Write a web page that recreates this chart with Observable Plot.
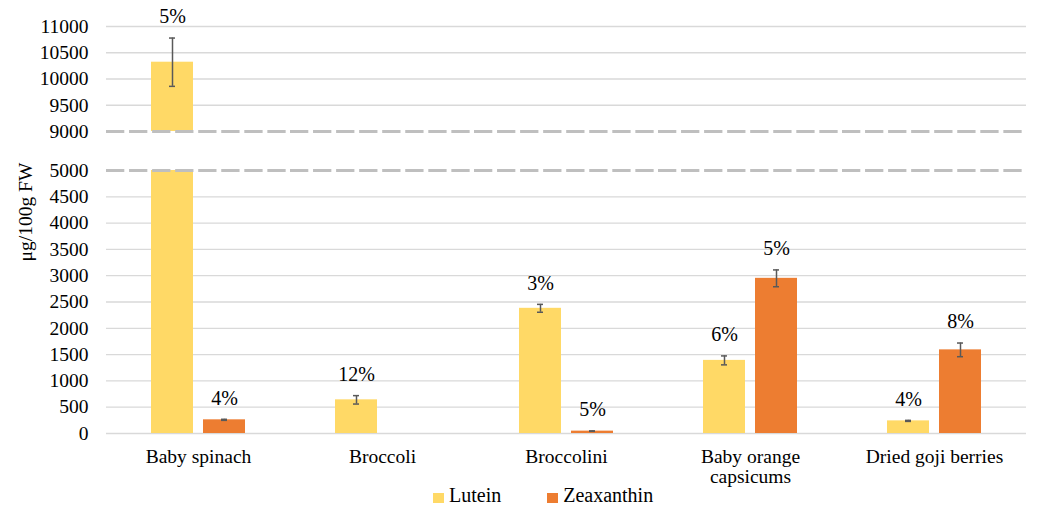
<!DOCTYPE html>
<html><head><meta charset="utf-8">
<script src="https://cdn.jsdelivr.net/npm/d3@7"></script>
<script src="https://cdn.jsdelivr.net/npm/@observablehq/plot@0.6"></script>
<style>
body{margin:0;background:#fff;}
#chart{position:relative;width:1051px;height:512px;font-family:'Liberation Serif',serif;color:#000;}
#top,#bottom{position:absolute;left:0;}
#top{top:0;}
#bottom{top:140px;}
#ylabel{position:absolute;left:26px;top:212px;transform:translate(-50%,-50%) rotate(-90deg);font-size:19.5px;white-space:nowrap;}
#legend{position:absolute;top:484px;left:433px;display:flex;align-items:center;font-size:20px;line-height:23px;}
.sw{display:inline-block;width:11px;height:10px;margin-right:5px;position:relative;top:2px;}
.item{display:flex;align-items:center;margin-right:46px;}
</style>
</head><body>
<div id="chart">
  <div id="top"></div>
  <div id="bottom"></div>
  <div id="ylabel">μg/100g FW</div>
  <div id="legend"></div>
</div>
<script>
const categories = ["Baby spinach", "Broccoli", "Broccolini", "Baby orange capsicums", "Dried goji berries"];
const categoryLabels = ["Baby spinach", "Broccoli", "Broccolini", "Baby orange\ncapsicums", "Dried goji berries"];
const series = ["Lutein", "Zeaxanthin"];
const lutein = [10320, 640, 2380, 1390, 240];
const luteinErr = [460, 80, 75, 85, 10];
const luteinPct = ["5%", "12%", "3%", "6%", "4%"];
const zeaxanthin = [260, null, 45, 2950, 1590];
const zeaxanthinErr = [10, null, 4, 160, 130];
const zeaxanthinPct = ["4%", null, "5%", "5%", "8%"];
const upperTicks = [9000, 9500, 10000, 10500, 11000];
const lowerTicks = [0, 500, 1000, 1500, 2000, 2500, 3000, 3500, 4000, 4500, 5000];
const colors = ["#FFD966", "#ED7D31"];

const rows = [];
categories.forEach((c, i) => {
  rows.push({category: c, series: "Lutein", value: lutein[i], err: luteinErr[i], pct: luteinPct[i]});
  if (zeaxanthin[i] != null) rows.push({category: c, series: "Zeaxanthin", value: zeaxanthin[i], err: zeaxanthinErr[i], pct: zeaxanthinPct[i]});
});

const font = "Liberation Serif, serif";
const gridColor = "#d9d9d9";
const dashColor = "#bfbfbf";
const errColor = "#595959";

function common() {
  return {
    width: 1051,
    marginLeft: 105,
    marginRight: 24,
    x: {domain: series, paddingInner: 0.2, paddingOuter: 0.84, axis: null},
    color: {domain: series, range: colors},
    style: {fontFamily: font, fontSize: "19.5px", color: "#000", background: "transparent", overflow: "visible"}
  };
}

function panelMarks(ticks, dashed, inPanel) {
  const errRows = rows.filter(inPanel);
  return [
    Plot.ruleY(ticks.filter(t => t !== dashed), {stroke: gridColor, strokeWidth: 1.3}),
    Plot.barY(rows, {fx: "category", x: "series", y: "value", fill: "series", clip: true}),
    Plot.ruleX(rows, {fx: "category", x: "series", y1: d => d.value - d.err, y2: d => d.value + d.err, stroke: errColor, strokeWidth: 1.5, clip: true}),
    Plot.tickY(rows, {fx: "category", x: "series", y: d => d.value + d.err, stroke: errColor, strokeWidth: 1.5, insetLeft: 18, insetRight: 18, clip: true}),
    Plot.tickY(rows, {fx: "category", x: "series", y: d => d.value - d.err, stroke: errColor, strokeWidth: 1.5, insetLeft: 18, insetRight: 18, clip: true}),
    Plot.ruleY([dashed], {stroke: dashColor, strokeWidth: 3, strokeDasharray: "18.3,4.75"}),
    Plot.text(errRows.filter(d => d.pct), {fx: "category", x: "series", y: d => d.value + d.err, text: "pct", dy: -21, fontSize: 20, fill: "#000"})
  ];
}

const topPlot = Plot.plot({
  ...common(),
  height: 140,
  marginTop: 26,
  marginBottom: 9,
  fx: {domain: categories, padding: 0, axis: null},
  y: {domain: [9000, 11000], ticks: upperTicks, tickSize: 0, tickPadding: 18, label: null, tickFormat: d => String(d)},
  marks: panelMarks(upperTicks, 9000, d => d.value > 5000)
});
document.getElementById("top").append(topPlot);

const bottomPlot = Plot.plot({
  ...common(),
  height: 350,
  marginTop: 30,
  marginBottom: 57,
  fx: {domain: categories, padding: 0, axis: "bottom", tickSize: 0, tickPadding: 16, label: null, fontSize: 20,
       tickFormat: d => categoryLabels[categories.indexOf(d)]},
  y: {domain: [0, 5000], ticks: lowerTicks, tickSize: 0, tickPadding: 18, label: null, tickFormat: d => String(d)},
  marks: panelMarks(lowerTicks, 5000, d => d.value + d.err <= 5000)
});
document.getElementById("bottom").append(bottomPlot);

const legend = document.getElementById("legend");
series.forEach((s, i) => {
  const item = document.createElement("div");
  item.className = "item";
  const sw = document.createElement("span");
  sw.className = "sw";
  sw.style.background = colors[i];
  const t = document.createElement("span");
  t.textContent = s;
  item.append(sw, t);
  legend.append(item);
});
</script>
</body></html>
